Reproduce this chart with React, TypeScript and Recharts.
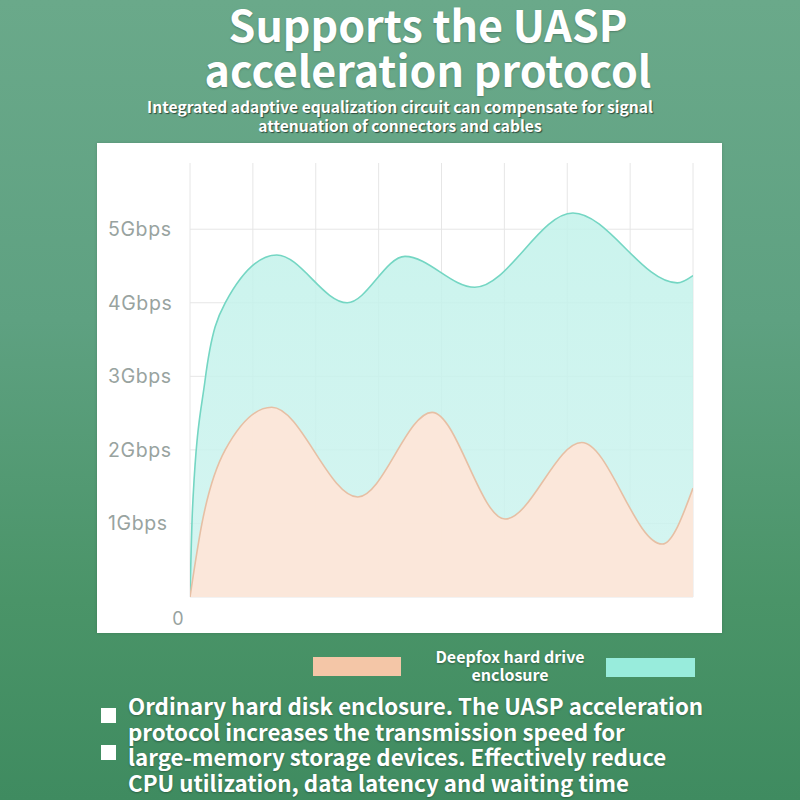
import React from "react";
import { AreaChart, Area, XAxis, YAxis, CartesianGrid, Legend } from "recharts";

const xTicks = [0, 1, 2, 3, 4, 5, 6, 7, 8];
const yTicks = [0, 1, 2, 3, 4, 5];
const yTickLabels = ["0", "1Gbps", "2Gbps", "3Gbps", "4Gbps", "5Gbps"];

const deepfoxX = [0, 0.04, 0.24, 0.56, 1.38, 2.5, 3.42, 4.53, 6.09, 7.75, 8];
const deepfoxY = [0, 1.2, 2.95, 4.0, 4.65, 4.0, 4.63, 4.21, 5.22, 4.27, 4.37];

const ordinaryX = [0, 0.19, 0.56, 1.3, 2.67, 3.85, 5.01, 6.23, 7.51, 8];
const ordinaryY = [0, 1.0, 2.0, 2.58, 1.36, 2.51, 1.06, 2.1, 0.72, 1.48];

const legendLabel = ["Deepfox hard drive", "enclosure"];
const titleLines = ["Supports the UASP", "acceleration protocol"];
const subtitleLines = [
  "Integrated adaptive equalization circuit can compensate for signal",
  "attenuation of connectors and cables",
];
const bodyLines = [
  "Ordinary hard disk enclosure. The UASP acceleration",
  "protocol increases the transmission speed for",
  "large-memory storage devices. Effectively reduce",
  "CPU utilization, data latency and waiting time",
];

const deepfoxData = deepfoxX.map((x, i) => ({ x, v: deepfoxY[i] }));
const ordinaryData = ordinaryX.map((x, i) => ({ x, v: ordinaryY[i] }));

const NoTick = () => null;

const YTick = (props: any) => {
  const { y, payload } = props;
  const idx = yTicks.indexOf(payload.value);
  const label = yTickLabels[idx] ?? String(payload.value);
  if (payload.value === 0) {
    return (
      <text x={178} y={y + 21} textAnchor="middle" dominantBaseline="central" fill="#98a39f" fontSize={18} fontFamily="Inter, 'Noto Sans', sans-serif">
        {label}
      </text>
    );
  }
  return (
    <text x={108} y={y} textAnchor="start" dominantBaseline="central" fill="#98a39f" fontSize={19.5} fontFamily="Inter, 'Noto Sans', sans-serif" letterSpacing={0.6}>
      {label}
    </text>
  );
};

const LegendContent = () => (
  <div style={{ position: "relative", width: 800, height: 40, fontFamily: "'Noto Sans CJK SC', 'Noto Sans', sans-serif" }}>
    <div style={{ position: "absolute", left: 313, top: 7, width: 88, height: 19, background: "#f4c6a7" }} />
    <div
      style={{
        position: "absolute",
        left: 410,
        top: -3,
        width: 200,
        textAlign: "center",
        color: "#fff",
        fontWeight: 700,
        fontSize: 16,
        lineHeight: "18px",
        textShadow: "0 1px 2px rgba(0,0,0,0.35)",
      }}
    >
      {legendLabel.map((l, i) => (
        <div key={i}>{l}</div>
      ))}
    </div>
    <div style={{ position: "absolute", left: 606, top: 8, width: 89, height: 19, background: "#98ecdc" }} />
  </div>
);

export default function App() {
  return (
    <div
      style={{
        position: "absolute",
        left: 0,
        top: 0,
        width: 800,
        height: 800,
        overflow: "hidden",
        background: "linear-gradient(180deg, #6aa98a 0%, #5ea181 40%, #4a9468 75%, #3f8b60 100%)",
      }}
    >
      <div
        style={{
          position: "absolute",
          left: 0,
          top: 1,
          width: 856,
          textAlign: "center",
          color: "#fff",
          fontFamily: "'Noto Sans CJK SC', 'Noto Sans', sans-serif",
          fontWeight: 700,
          fontSize: 43,
          lineHeight: "45px",
          textShadow: "0 1px 2px rgba(0,0,0,0.25)",
        }}
      >
        {titleLines.map((l, i) => (
          <div key={i}>{l}</div>
        ))}
      </div>
      <div
        style={{
          position: "absolute",
          left: 0,
          top: 97,
          width: 800,
          textAlign: "center",
          color: "#fff",
          fontFamily: "'Noto Sans CJK SC', 'Noto Sans', sans-serif",
          fontWeight: 700,
          fontSize: 15.6,
          lineHeight: "19px",
          textShadow: "1px 1px 1px rgba(0,0,0,0.55)",
        }}
      >
        {subtitleLines.map((l, i) => (
          <div key={i}>{l}</div>
        ))}
      </div>
      <div style={{ position: "absolute", left: 97, top: 143, width: 625, height: 490, background: "#fff", boxShadow: "0 0 3px rgba(0,0,0,0.15)" }} />
      <div style={{ position: "absolute", left: 0, top: 0 }}>
        <AreaChart width={800} height={700} margin={{ top: 163, left: 189, right: 107, bottom: 102 }}>
          <defs>
            <linearGradient id="cyanFill" x1="0" y1="0" x2="0" y2="1">
              <stop offset="0%" stopColor="#c2f2ea" />
              <stop offset="100%" stopColor="#cdf3ef" />
            </linearGradient>
          </defs>
          <CartesianGrid stroke="#e6e6e6" strokeWidth={1} horizontalValues={yTicks} />
          <XAxis
            type="number"
            dataKey="x"
            domain={[0, 8]}
            ticks={xTicks}
            interval={0}
            tick={<NoTick />}
            axisLine={false}
            tickLine={false}
            height={1}
            allowDataOverflow
          />
          <YAxis type="number" domain={[0, 5.9]} ticks={yTicks} tick={<YTick />} axisLine={false} tickLine={false} width={1} allowDataOverflow />
          <Area
            data={deepfoxData}
            dataKey="v"
            type="monotone"
            stroke="#74d6c3"
            strokeWidth={1.6}
            fill="url(#cyanFill)"
            fillOpacity={0.85}
            isAnimationActive={false}
            dot={false}
            activeDot={false}
          />
          <Area
            data={ordinaryData}
            dataKey="v"
            type="monotone"
            stroke="#e6bfa4"
            strokeWidth={1.6}
            fill="#fde6d8"
            fillOpacity={0.95}
            isAnimationActive={false}
            dot={false}
            activeDot={false}
          />
          <Legend
            verticalAlign="middle"
            align="center"
            layout="horizontal"
            content={<LegendContent />}
            wrapperStyle={{ position: "absolute", left: 0, top: 650, width: 800 }}
          />
        </AreaChart>
      </div>
      <div style={{ position: "absolute", left: 101, top: 708, width: 15, height: 15, background: "#fff" }} />
      <div style={{ position: "absolute", left: 101, top: 745, width: 15, height: 15, background: "#fff" }} />
      <div
        style={{
          position: "absolute",
          left: 128,
          top: 693,
          width: 680,
          color: "#fff",
          fontFamily: "'Noto Sans CJK SC', 'Noto Sans', sans-serif",
          fontWeight: 700,
          fontSize: 22.3,
          lineHeight: "25.6px",
          textShadow: "0 1px 2px rgba(0,0,0,0.3)",
          whiteSpace: "nowrap",
        }}
      >
        {bodyLines.map((l, i) => (
          <div key={i}>{l}</div>
        ))}
      </div>
    </div>
  );
}
